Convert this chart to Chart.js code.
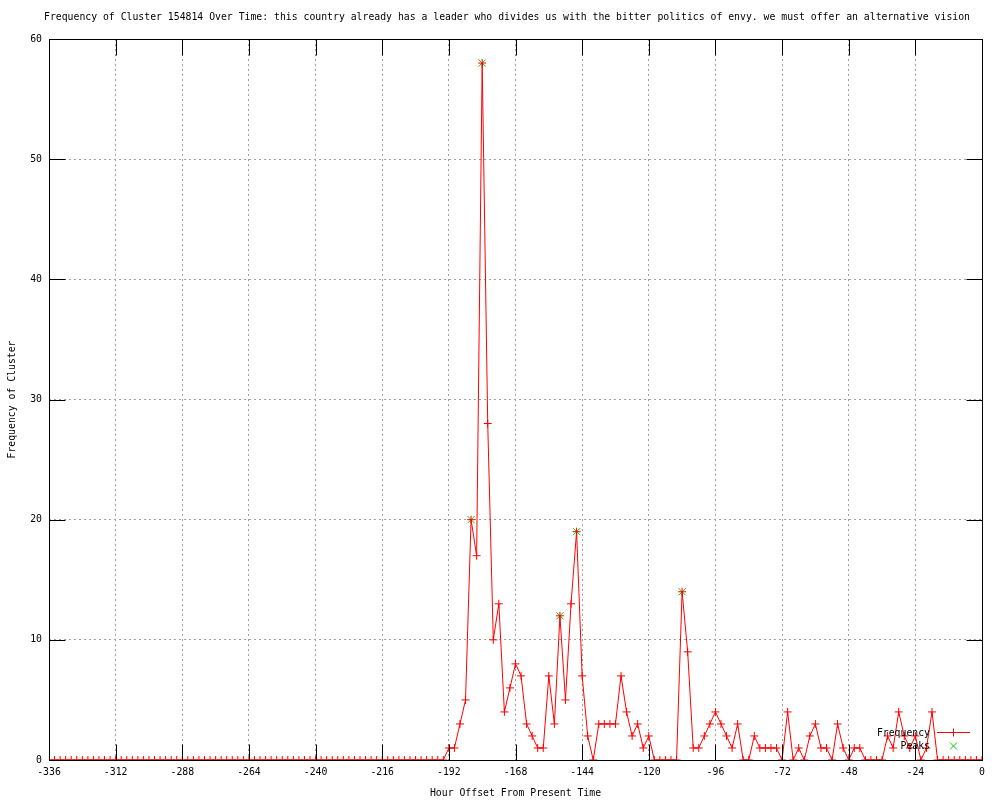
<!DOCTYPE html>
<html>
<head>
<meta charset="utf-8">
<title>Frequency of Cluster 154814 Over Time</title>
<script src="https://cdn.jsdelivr.net/npm/chart.js@4.4.1/dist/chart.umd.min.js"></script>
<style>
    html, body { margin: 0; padding: 0; background: #fff; }
    #wrap { width: 1000px; height: 800px; }
</style>
</head>
<body>
<div id="wrap"><canvas id="clusterChart" width="1000" height="800"></canvas></div>
<script>
// Data (jam relatif terhadap sekarang, tiap 2 jam)
const hours = [
    -336, -334, -332, -330, -328, -326, -324, -322, -320, -318, -316, -314,
    -312, -310, -308, -306, -304, -302, -300, -298, -296, -294, -292, -290,
    -288, -286, -284, -282, -280, -278, -276, -274, -272, -270, -268, -266,
    -264, -262, -260, -258, -256, -254, -252, -250, -248, -246, -244, -242,
    -240, -238, -236, -234, -232, -230, -228, -226, -224, -222, -220, -218,
    -216, -214, -212, -210, -208, -206, -204, -202, -200, -198, -196, -194,
    -192, -190, -188, -186, -184, -182, -180, -178, -176, -174, -172, -170,
    -168, -166, -164, -162, -160, -158, -156, -154, -152, -150, -148, -146,
    -144, -142, -140, -138, -136, -134, -132, -130, -128, -126, -124, -122,
    -120, -118, -116, -114, -112, -110, -108, -106, -104, -102, -100, -98,
    -96, -94, -92, -90, -88, -86, -84, -82, -80, -78, -76, -74,
    -72, -70, -68, -66, -64, -62, -60, -58, -56, -54, -52, -50,
    -48, -46, -44, -42, -40, -38, -36, -34, -32, -30, -28, -26,
    -24, -22, -20, -18, -16, -14, -12, -10, -8, -6, -4, -2,
    0
];
const frequency = [
    0, 0, 0, 0, 0, 0, 0, 0, 0, 0, 0, 0,
    0, 0, 0, 0, 0, 0, 0, 0, 0, 0, 0, 0,
    0, 0, 0, 0, 0, 0, 0, 0, 0, 0, 0, 0,
    0, 0, 0, 0, 0, 0, 0, 0, 0, 0, 0, 0,
    0, 0, 0, 0, 0, 0, 0, 0, 0, 0, 0, 0,
    0, 0, 0, 0, 0, 0, 0, 0, 0, 0, 0, 0,
    1, 1, 3, 5, 20, 17, 58, 28, 10, 13, 4, 6,
    8, 7, 3, 2, 1, 1, 7, 3, 12, 5, 13, 19,
    7, 2, 0, 3, 3, 3, 3, 7, 4, 2, 3, 1,
    2, 0, 0, 0, 0, 0, 14, 9, 1, 1, 2, 3,
    4, 3, 2, 1, 3, 0, 0, 2, 1, 1, 1, 1,
    0, 4, 0, 1, 0, 2, 3, 1, 1, 0, 3, 1,
    0, 1, 1, 0, 0, 0, 0, 2, 1, 4, 2, 1,
    2, 0, 1, 4, 0, 0, 0, 0, 0, 0, 0, 0,
    0
];
const peakHours = [-184, -180, -152, -146, -108];
const peakValues = [20, 58, 12, 19, 14];

const titleText = 'Frequency of Cluster 154814 Over Time: this country already has a leader who divides us with the bitter politics of envy. we must offer an alternative vision';
const fontFamily = '"DejaVu Sans Mono", "Liberation Mono", monospace';
const fontSize = 9.8;

// Judul, bingkai, tanda tick ke dalam, dan legenda ala gnuplot
const gnuplotFrame = {
    id: 'gnuplotFrame',
    afterDraw(chart) {
        const ctx = chart.ctx;
        const area = chart.chartArea;
        const xs = chart.scales.x;
        const ys = chart.scales.y;
        const L = Math.round(area.left) + 0.5;
        const R = Math.round(area.right) + 0.5;
        const T = Math.round(area.top) + 0.5;
        const B = Math.round(area.bottom) + 0.5;
        const tic = 16;

        ctx.save();
        ctx.strokeStyle = '#000';
        ctx.lineWidth = 1;
        ctx.setLineDash([]);
        ctx.beginPath();
        xs.ticks.forEach(t => {
            const px = Math.round(xs.getPixelForValue(t.value)) + 0.5;
            ctx.moveTo(px, B); ctx.lineTo(px, B - tic);
            ctx.moveTo(px, T); ctx.lineTo(px, T + tic);
        });
        ys.ticks.forEach(t => {
            const py = Math.round(ys.getPixelForValue(t.value)) + 0.5;
            ctx.moveTo(L, py); ctx.lineTo(L + tic, py);
            ctx.moveTo(R, py); ctx.lineTo(R - tic, py);
        });
        ctx.stroke();
        ctx.strokeRect(L, T, R - L, B - T);

        // judul
        ctx.fillStyle = '#000';
        ctx.font = fontSize + 'px ' + fontFamily;
        ctx.textAlign = 'center';
        ctx.textBaseline = 'middle';
        ctx.fillText(titleText, 507, 17);

        // legenda
        ctx.textAlign = 'right';
        ctx.fillText('Frequency', 930, 733);
        ctx.fillText('Peaks', 930, 746);
        ctx.strokeStyle = '#ff0000';
        ctx.beginPath();
        ctx.moveTo(937, 732.5); ctx.lineTo(970, 732.5);
        ctx.moveTo(953.5, 728.5); ctx.lineTo(953.5, 736.5);
        ctx.stroke();
        ctx.strokeStyle = '#00cc00';
        ctx.beginPath();
        ctx.moveTo(950, 742.5); ctx.lineTo(957, 749.5);
        ctx.moveTo(957, 742.5); ctx.lineTo(950, 749.5);
        ctx.stroke();
        ctx.restore();
    }
};

function initClusterChart() {
    const ctx = document.getElementById('clusterChart').getContext('2d');
    const tickFont = { family: fontFamily, size: fontSize };

    new Chart(ctx, {
        type: 'line',
        data: {
            datasets: [{
                label: 'Frequency',
                data: hours.map((h, i) => ({ x: h, y: frequency[i] })),
                borderColor: '#ff0000',
                borderWidth: 1,
                pointStyle: 'cross',
                pointRadius: 4,
                pointBorderColor: '#ff0000',
                pointBorderWidth: 1,
                tension: 0,
                fill: false
            }, {
                label: 'Peaks',
                data: peakHours.map((h, i) => ({ x: h, y: peakValues[i] })),
                showLine: false,
                pointStyle: 'crossRot',
                pointRadius: 5,
                pointBorderColor: '#00cc00',
                pointBorderWidth: 1
            }]
        },
        options: {
            responsive: false,
            animation: false,
            events: [],
            layout: {
                padding: { top: 39, right: 18, left: 0, bottom: 0 }
            },
            plugins: {
                legend: { display: false },
                title: { display: false },
                tooltip: { enabled: false }
            },
            scales: {
                x: {
                    type: 'linear',
                    min: -336,
                    max: 0,
                    afterFit: function(scale) { scale.height = 40; },
                    grid: {
                        color: '#a0a0a0',
                        lineWidth: 1,
                        drawTicks: false
                    },
                    border: { display: false, dash: [2, 3] },
                    ticks: {
                        stepSize: 24,
                        color: '#000',
                        font: tickFont,
                        padding: 7,
                        maxRotation: 0,
                        autoSkip: false
                    },
                    title: {
                        display: true,
                        text: 'Hour Offset From Present Time',
                        color: '#000',
                        font: tickFont,
                        padding: { top: 0, bottom: 1 }
                    }
                },
                y: {
                    min: 0,
                    max: 60,
                    afterFit: function(scale) { scale.width = 49; },
                    grid: {
                        color: '#a0a0a0',
                        lineWidth: 1,
                        drawTicks: false
                    },
                    border: { display: false, dash: [2, 3] },
                    ticks: {
                        stepSize: 10,
                        color: '#000',
                        font: tickFont,
                        padding: 7
                    },
                    title: {
                        display: true,
                        text: 'Frequency of Cluster',
                        color: '#000',
                        font: tickFont,
                        padding: { top: 7, bottom: 0 }
                    }
                }
            }
        },
        plugins: [gnuplotFrame]
    });
}

document.addEventListener('DOMContentLoaded', function() {
    initClusterChart();
});
</script>
</body>
</html>
